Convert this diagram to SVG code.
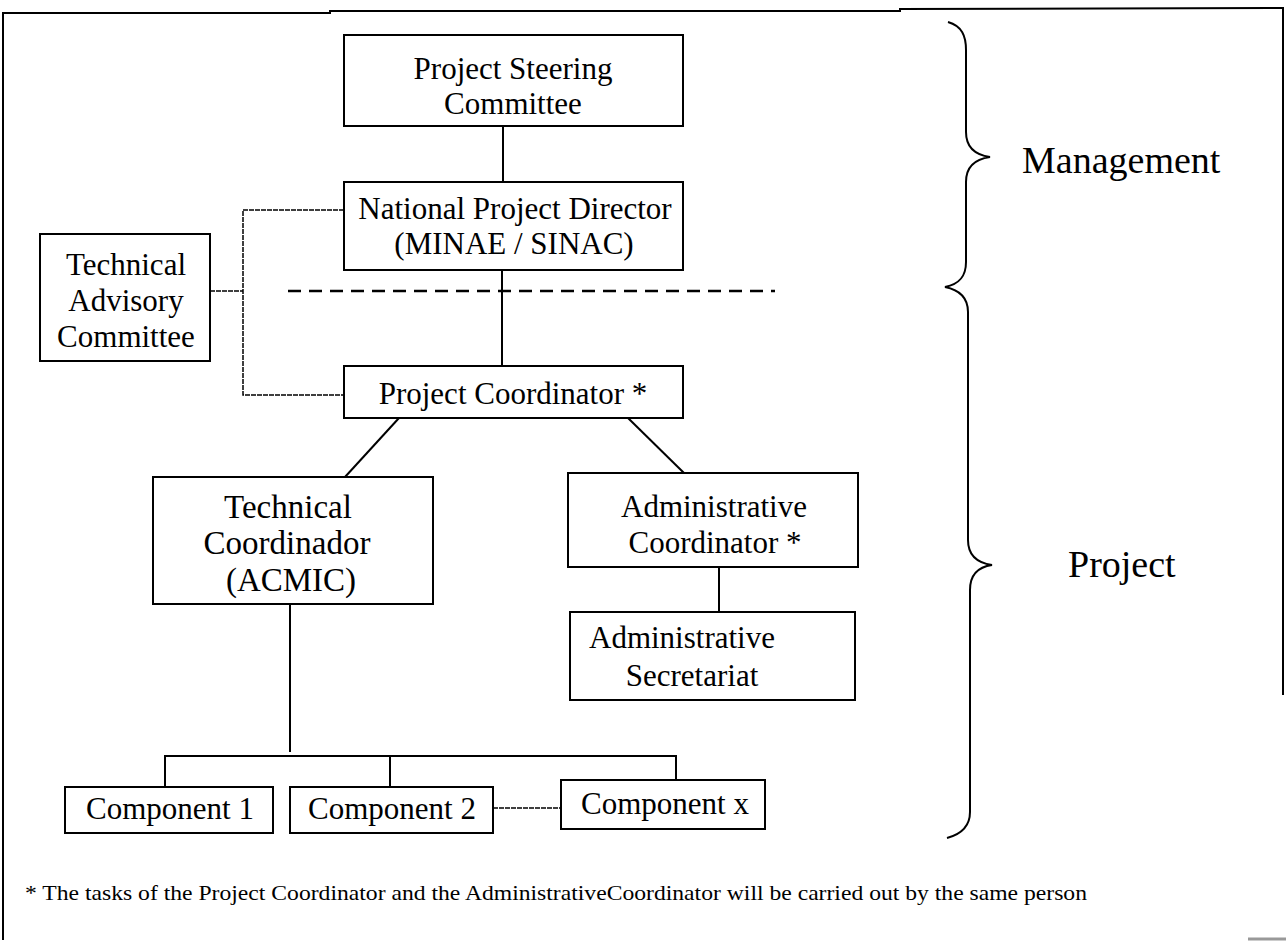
<svg xmlns="http://www.w3.org/2000/svg" width="1286" height="952" viewBox="0 0 1286 952">
<style>
.box{fill:#fff;stroke:#000;stroke-width:2}
.t{font-family:"Liberation Serif","Times New Roman",serif;font-size:31px;fill:#000;text-anchor:middle}
.tl{font-size:33px}
.big{font-family:"Liberation Serif","Times New Roman",serif;font-size:38px;fill:#000}
.ln{stroke:#000;stroke-width:2;fill:none}
.dot{stroke:#000;stroke-width:1.5;fill:none;stroke-dasharray:5 1}
.dash{stroke:#000;stroke-width:2.5;fill:none;stroke-dasharray:13 8}
</style>
<rect width="1286" height="952" fill="#fff"/>
<g id="frame">
<polyline class="ln" points="3,940 3,13 330,13 330,11 900,11 900,9 1283,8 1283,695"/>
<line x1="1248" y1="939" x2="1286" y2="939" stroke="#999" stroke-width="3"/>
</g>
<g id="connectors">
<line class="ln" x1="503" y1="126" x2="503" y2="182"/>
<line class="ln" x1="502" y1="270" x2="502" y2="366"/>
<line class="dash" x1="288" y1="291" x2="775" y2="291"/>
<polyline class="dot" points="344,210 243,210 243,395 344,395"/>
<line class="dot" x1="210" y1="291" x2="243" y2="291"/>
<line class="ln" x1="399" y1="418" x2="345" y2="477"/>
<line class="ln" x1="628" y1="418" x2="684" y2="473"/>
<line class="ln" x1="719" y1="567" x2="719" y2="612"/>
<line class="ln" x1="290" y1="604" x2="290" y2="752"/>
<polyline class="ln" points="165,787 165,756 676,756 676,780"/>
<line class="ln" x1="390" y1="756" x2="390" y2="787"/>
<line class="dot" x1="493" y1="808" x2="561" y2="808"/>
</g>
<g id="psc">
<rect class="box" x="344" y="35" width="339" height="91"/>
<text class="t" x="513" y="79">Project Steering</text>
<text class="t" x="513" y="114">Committee</text>
</g>
<g id="npd">
<rect class="box" x="344" y="182" width="339" height="88"/>
<text class="t" x="515" y="219">National Project Director</text>
<text class="t" x="514" y="254">(MINAE / SINAC)</text>
</g>
<g id="tac">
<rect class="box" x="40" y="234" width="170" height="127"/>
<text class="t" x="126" y="275">Technical</text>
<text class="t" x="126" y="311">Advisory</text>
<text class="t" x="126" y="347">Committee</text>
</g>
<g id="pc">
<rect class="box" x="344" y="366" width="339" height="52"/>
<text class="t" x="513" y="404">Project Coordinator *</text>
</g>
<g id="tc">
<rect class="box" x="153" y="477" width="280" height="127"/>
<text class="t tl" x="288" y="518">Technical</text>
<text class="t tl" x="287" y="554">Coordinador</text>
<text class="t tl" x="291" y="591">(ACMIC)</text>
</g>
<g id="ac">
<rect class="box" x="568" y="473" width="290" height="94"/>
<text class="t" x="714" y="517">Administrative</text>
<text class="t" x="715" y="553">Coordinator *</text>
</g>
<g id="as">
<rect class="box" x="570" y="612" width="285" height="88"/>
<text class="t" x="682" y="648">Administrative</text>
<text class="t" x="692" y="686">Secretariat</text>
</g>
<g id="comp1">
<rect class="box" x="65" y="787" width="208" height="46"/>
<text class="t" x="170" y="819">Component 1</text>
</g>
<g id="comp2">
<rect class="box" x="290" y="787" width="203" height="46"/>
<text class="t" x="392" y="819">Component 2</text>
</g>
<g id="compx">
<rect class="box" x="561" y="780" width="204" height="49"/>
<text class="t" x="665" y="814">Component x</text>
</g>
<g id="braces">
<path class="ln" d="M 948 22 C 962 26, 966 36, 966 50 L 966 132 C 966 148, 976 155, 990 157 C 976 159, 966 166, 966 182 L 966 262 C 966 276, 960 284, 945 287 C 960 290, 968 298, 968 312 L 968 540 C 968 556, 978 563, 992 565 C 978 567, 970 574, 970 590 L 970 812 C 970 826, 962 834, 947 838"/>
<text class="big" x="1022" y="173">Management</text>
<text class="big" x="1068" y="577">Project</text>
</g>
<g id="footnote">
<text x="25" y="900" font-family="'Liberation Serif','Times New Roman',serif" font-size="21" textLength="1062" lengthAdjust="spacingAndGlyphs">* The tasks of the Project Coordinator and the AdministrativeCoordinator will be carried out by the same person</text>
</g>
</svg>
